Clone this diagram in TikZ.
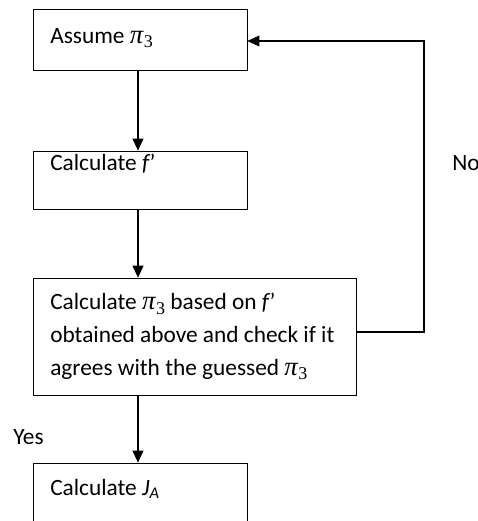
\documentclass[tikz,border=0pt]{standalone}
\usepackage{fontspec}
\setmainfont{Carlito}
\newfontfamily\greekfont{Liberation Serif}
\usepackage{tikz}
\usetikzlibrary{arrows.meta,positioning,calc}

\newcommand{\pithree}{{\greekfont\itshape\fontsize{20}{24}\selectfont π}\kern0.5pt\raisebox{-3.5pt}{\greekfont\fontsize{13.5}{16}\selectfont 3}}

\tikzset{
  stepbox/.style={draw,thin,rectangle,inner sep=0pt},
  steptext/.style={anchor=base west,inner sep=0pt,align=left,
    font=\fontsize{17.5}{24.4}\selectfont},
  flow/.style={-{Triangle[length=9pt,width=8pt]},line width=1.4pt},
  back/.style={-{Triangle[length=9pt,width=8pt]},line width=0.8pt}
}

\begin{document}
\begin{tikzpicture}[x=0.75pt,y=-0.75pt]
    \useasboundingbox (0,0) rectangle (478,521);
    \clip (0,0) rectangle (478,521);

    % Boxes
    \node[stepbox,minimum width=160.5pt,minimum height=45.75pt] (assume) at (140,39.5) {};
    \node[stepbox,minimum width=160.5pt,minimum height=43.5pt] (calcf) at (140,180) {};
    \node[stepbox,minimum width=242.25pt,minimum height=87.75pt] (check) at (194.5,336.5) {};
    \node[stepbox,minimum width=160.5pt,minimum height=60pt] (calcj) at (140,503) {};

    % Texts
    \node[steptext] (t1) at (50,43) {Assume \pithree};
    \node[steptext] (t2) at (50,170) {Calculate \textit{f}\kern-0.5pt’};
    \node[steptext] (t3) at (50,375) {Calculate \pithree\ based on \textit{f}\kern-0.5pt’\\
      obtained above and check if it\\agrees with the guessed \pithree};
    \node[steptext] (t4) at (50,495) {Calculate \textit{J}\textsubscript{\textit{A}}};

    % Arrows
    \draw[flow] (assume.south -| 138,0) -- (calcf.north -| 138,0);
    \draw[flow] (calcf.south -| 138,0) -- (check.north -| 138,0);
    \draw[flow] (check.south -| 138,0) -- (calcj.north -| 138,0);
    \draw[back] (check.east |- 0,332) -- (424,332) |- (assume.east |- 0,41);

    % Decision labels
    \node[steptext] (no) at (452,170) {No};
    \node[steptext] (yes) at (13,444) {Yes};
\end{tikzpicture}
\end{document}
